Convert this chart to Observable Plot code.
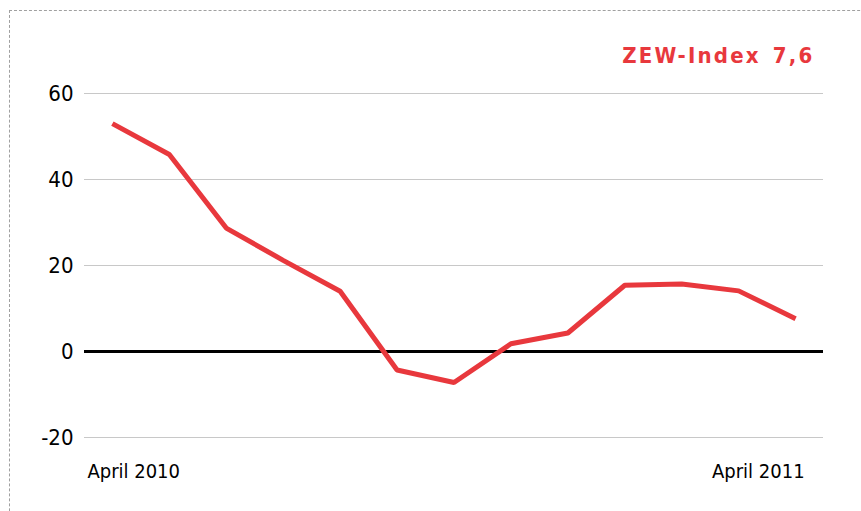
<!DOCTYPE html>
<html>
<head>
<meta charset="utf-8">
<script src="https://cdn.jsdelivr.net/npm/d3@7"></script>
<script src="https://cdn.jsdelivr.net/npm/@observablehq/plot@0.6"></script>
<style>
  html, body { margin: 0; padding: 0; background: #fff; }
  #wrap { position: relative; width: 861px; height: 511px; overflow: hidden; }
  #border { position: absolute; left: 9px; top: 10px; width: 900px; height: 600px;
            border-top: 1px dashed #a0a0a0; border-left: 1px dashed #a0a0a0; pointer-events: none; }
</style>
</head>
<body>
<div id="wrap"><div id="border"></div></div>
<script>
const months = ["Apr 2010","May 2010","Jun 2010","Jul 2010","Aug 2010","Sep 2010","Oct 2010",
                "Nov 2010","Dec 2010","Jan 2011","Feb 2011","Mar 2011","Apr 2011"];
const zew = [53.0, 45.8, 28.7, 21.2, 14.0, -4.3, -7.2, 1.8, 4.3, 15.4, 15.7, 14.1, 7.6];
const yTicks = [-20, 0, 20, 40, 60];
const xLabels = [{i: 0, label: "April 2010", anchor: "start", dx: -25},
                 {i: 12, label: "April 2011", anchor: "end", dx: 9}];
const titleText = "ZEW-Index 7,6";

const data = months.map((m, i) => ({i, month: m, value: zew[i]}));
const font = "'DejaVu Sans Condensed', 'DejaVu Sans', sans-serif";

const chart = Plot.plot({
  width: 861,
  height: 511,
  marginLeft: 84,
  marginRight: 38,
  marginTop: 93,
  marginBottom: 74,
  style: {fontFamily: font, background: "transparent", overflow: "visible"},
  x: {domain: [-0.49, 12.49], axis: null},
  y: {domain: [-20, 60], axis: null},
  marks: [
    Plot.gridY(yTicks, {stroke: "#c8c8c8", strokeOpacity: 1, strokeWidth: 1}),
    Plot.axisY(yTicks, {tickSize: 0, tickPadding: 11, fontSize: 22, fill: "#000", label: null,
      tickFormat: d => String(d)}),
    Plot.ruleY([0], {stroke: "#000", strokeWidth: 3}),
    Plot.line(data, {x: "i", y: "value", stroke: "#e8383d", strokeWidth: 5, strokeLinejoin: "miter", strokeLinecap: "butt"}),
    ...xLabels.map(l => Plot.text([l], {x: "i", frameAnchor: "bottom", text: "label", textAnchor: l.anchor,
      lineAnchor: "bottom", dx: l.dx, dy: 40, fontSize: 20, fill: "#000"})),
    Plot.text([titleText], {frameAnchor: "top-right", lineAnchor: "bottom", dx: -9, dy: -31,
      fontSize: 22, fontWeight: "bold", fill: "#e8383d", text: d => d})
  ]
});
d3.select(chart).selectAll("text").filter(function() { return this.textContent === titleText; })
  .style("letter-spacing", "2.2px").style("word-spacing", "3px");
document.getElementById("wrap").prepend(chart);
</script>
</body>
</html>
